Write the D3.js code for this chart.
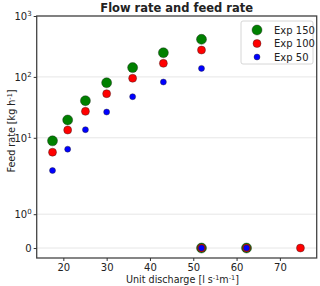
<!DOCTYPE html>
<meta charset="utf-8">
<style>
body { margin: 0; background: white; }
text { font-family: "DejaVu Sans", sans-serif; fill: #222; }
.grid line { stroke: #e6e6e6; stroke-width: 1; }
.axis path, .axis line { stroke: #333; }
</style>
<body>
<svg id="chart"></svg>
<script src="https://cdn.jsdelivr.net/npm/d3@7"></script>
<script>
'use strict'

// data
const discharge150 = [17.5, 21.0, 25.1, 30.0, 36.0, 43.1, 51.9, 51.9, 62.3]
const feed150      = [8.9, 19.6, 40.6, 80, 142, 249, 414, 0, 0]
const discharge100 = [17.5, 21.0, 25.1, 30.0, 36.0, 43.1, 51.9, 51.9, 62.3, 74.75]
const feed100      = [5.8, 13.4, 27.2, 53, 95, 167, 276, 0, 0, 0]
const discharge50  = [17.5, 21.0, 25.1, 30.0, 36.0, 43.1, 51.9, 51.9, 62.3]
const feed50       = [2.9, 6.5, 13.6, 26.5, 47.3, 82.4, 138, 0, 0]
const seriesNames  = ["Exp 150", "Exp 100", "Exp 50"]
const xTicks = [20, 30, 40, 50, 60, 70]
const yTicks = [0, 1, 10, 100, 1000]

const width = 320, height = 286
const margin = {left: 36.7, right: 3.3, top: 16, bottom: 28}

const svg = d3.select("#chart").attr("width", width).attr("height", height)

// symlog like matplotlib (linthresh 2, linscale 1)
const linthresh = 2, linscaleAdj = 1 / (1 - 1 / 10)
function symlog(v) {
  const a = Math.abs(v)
  if (a <= linthresh) return v * linscaleAdj
  return Math.sign(v) * linthresh * (linscaleAdj + Math.log10(a / linthresh))
}

const x = d3.scaleLinear().domain([13.85, 78.5]).range([margin.left, width - margin.right])
const yLin = d3.scaleLinear().domain([symlog(-0.295), symlog(1000)]).range([height - margin.bottom, margin.top])
const y = v => yLin(symlog(v))

// grid
svg.append("g").attr("class", "grid")
  .selectAll("line").data(yTicks).enter().append("line")
    .attr("x1", margin.left).attr("x2", width - margin.right)
    .attr("y1", d => y(d)).attr("y2", d => y(d))

// frame
svg.append("rect")
  .attr("x", margin.left).attr("y", margin.top)
  .attr("width", width - margin.left - margin.right)
  .attr("height", height - margin.top - margin.bottom)
  .attr("fill", "none").attr("stroke", "#444").attr("stroke-width", 1.3)

// x axis
const xAxis = svg.append("g").attr("class", "axis")
  .attr("transform", "translate(0," + (height - margin.bottom) + ")")
  .call(d3.axisBottom(x).tickValues(xTicks).tickSize(3).tickSizeOuter(0).tickPadding(3))
xAxis.select(".domain").remove()
xAxis.selectAll("text").style("font-size", "10px").attr("fill", "#222")

// y axis with superscript labels
const yAxis = svg.append("g").attr("class", "axis")
  .attr("transform", "translate(" + margin.left + ",0)")
  .call(d3.axisLeft(yLin).tickValues(yTicks.map(symlog)).tickSize(3).tickSizeOuter(0).tickFormat(""))
yAxis.select(".domain").remove()
yTicks.forEach(v => {
  const t = svg.append("text")
    .attr("x", margin.left - 5).attr("y", y(v) + 4)
    .attr("text-anchor", "end").style("font-size", "10px")
  if (v === 0) { t.text("0"); return }
  t.append("tspan").text("10")
  t.append("tspan").attr("dy", -4).style("font-size", "7px").text(Math.round(Math.log10(v)))
})

// points
const series = [
  {xs: discharge150, ys: feed150, color: "green", r: 5},
  {xs: discharge100, ys: feed100, color: "red", r: 4},
  {xs: discharge50, ys: feed50, color: "blue", r: 3}
]
series.forEach(s => {
  svg.append("g").selectAll("circle")
    .data(s.xs.map((d, i) => [d, s.ys[i]]))
    .enter().append("circle")
      .attr("cx", d => x(d[0])).attr("cy", d => y(d[1]))
      .attr("r", s.r).attr("fill", s.color)
      .attr("stroke", "#222").attr("stroke-width", 0.4)
})

// legend
const lg = svg.append("g").attr("transform", "translate(241,21)")
lg.append("rect").attr("width", 72).attr("height", 43).attr("rx", 2)
  .attr("fill", "white").attr("stroke", "#ccc").attr("stroke-width", 0.8)
series.forEach((s, i) => {
  lg.append("circle").attr("cx", 16).attr("cy", 9 + i * 13.5).attr("r", s.r)
    .attr("fill", s.color).attr("stroke", "#222").attr("stroke-width", 0.4)
  lg.append("text").attr("x", 33).attr("y", 12.5 + i * 13.5)
    .style("font-size", "10px").text(seriesNames[i])
})

// title and labels
svg.append("text").attr("x", (margin.left + width - margin.right) / 2).attr("y", 12)
  .attr("text-anchor", "middle").style("font-size", "11.5px").style("font-weight", "bold")
  .text("Flow rate and feed rate")

const xl = svg.append("text").attr("x", 126).attr("y", 283)
  .attr("text-anchor", "start").style("font-size", "9.6px")
xl.append("tspan").text("Unit discharge [l s")
xl.append("tspan").attr("dy", -3.5).style("font-size", "6.5px").text("-1")
xl.append("tspan").attr("dy", 3.5).text("m")
xl.append("tspan").attr("dy", -3.5).style("font-size", "6.5px").text("-1")
xl.append("tspan").attr("dy", 3.5).text("]")

const yl = svg.append("text").attr("transform", "translate(15,131) rotate(-90)")
  .attr("text-anchor", "middle").style("font-size", "9.6px")
yl.append("tspan").text("Feed rate [kg h")
yl.append("tspan").attr("dy", -3.5).style("font-size", "6.5px").text("-1")
yl.append("tspan").attr("dy", 3.5).text("]")
</script>
</body>
